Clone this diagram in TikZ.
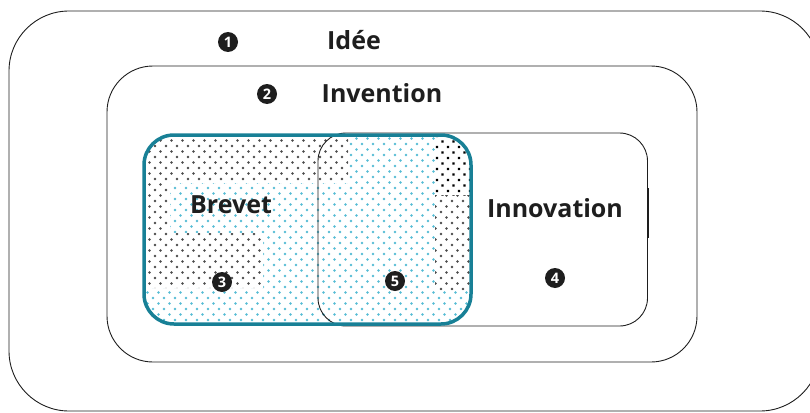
\documentclass[tikz,border=0pt]{standalone}
\usepackage{fontspec}
\setmainfont{Open Sans}
\definecolor{teal1}{RGB}{24,128,150}
\definecolor{cyandot}{RGB}{85,188,212}
\definecolor{ink}{RGB}{30,30,30}
\tikzset{
  frame/.style={draw=ink, line width=0.9pt, rounded corners=#1, outer sep=0pt, inner sep=0pt},
  lbl/.style={anchor=base, text=ink, inner sep=0pt, font=\bfseries\fontsize{25}{25}\selectfont},
  num/.style={circle, fill=ink, text=white, inner sep=0pt, minimum size=20pt, font=\bfseries\fontsize{14.5}{14.5}\selectfont},
}
\begin{document}
\begin{tikzpicture}[x=1pt,y=-1pt]
\useasboundingbox (0,0) rectangle (810,412);
% frames
\node[frame=60pt, minimum width=811pt, minimum height=400pt] (idee) at (414.5,211) {};
\node[frame=46pt, minimum width=590pt, minimum height=296pt] (inv) at (402,214) {};
\node[outer sep=0pt, inner sep=0pt, minimum width=327pt, minimum height=189pt] (brev) at (307.5,229.5) {};
\node[outer sep=0pt, inner sep=0pt, minimum width=329.5pt, minimum height=193pt] (innov) at (482.75,229.5) {};
% dots inside the patent box
\begin{scope}
  \clip[rounded corners=30pt] (brev.south west) rectangle (brev.north east);
  \fill[cyandot]
    \foreach \j in {0,...,18}{ \foreach \i in {0,...,30}{ (142+11*\i,133+11*\j) circle (1.3) } }
    \foreach \j in {0,...,18}{ \foreach \i in {0,...,30}{ (147.5+11*\i,138.5+11*\j) circle (1.3) } };
  \begin{scope}
    \clip (140,131) rectangle (348,183)
          (140,183) rectangle (170,233)
          (140,233) rectangle (263,288)
          (435,195) rectangle (475,290);
    \fill[white] (140,131) rectangle (475,330);
    \fill[ink!80]
      \foreach \j in {0,...,18}{ \foreach \i in {0,...,30}{ (144+11*\i,135+11*\j) circle (1.4) } }
      \foreach \j in {0,...,18}{ \foreach \i in {0,...,30}{ (149.5+11*\i,140.5+11*\j) circle (1.4) } };
  \end{scope}
  \begin{scope}
    \clip (435,131) rectangle (475,195);
    \fill[white] (435,131) rectangle (475,195);
    \fill[black]
      \foreach \j in {0,...,6}{ \foreach \i in {0,...,4}{ (437+11*\i-1.2,136+11*\j-1.2) rectangle ++(2.4,2.4) } }
      \foreach \j in {0,...,6}{ \foreach \i in {0,...,4}{ (442.5+11*\i-1.2,141.5+11*\j-1.2) rectangle ++(2.4,2.4) } };
  \end{scope}
\end{scope}
% innovation and patent outlines
\draw[ink, line width=0.9pt, rounded corners=28pt] (innov.south west) rectangle (innov.north east);
\draw[ink, line width=2pt] ([yshift=41.5pt]innov.east) -- ([yshift=-8.5pt]innov.east);
\draw[teal1, line width=3.5pt, rounded corners=30pt] (brev.south west) rectangle (brev.north east);
% labels
\node[lbl] (tidee) at (354,49) {Idée};
\node[lbl] (tinv) at (382,102) {Invention};
\node[lbl] (tbrev) at (231,213) {Brevet};
\node[lbl] (tinnov) at (555,217) {Innovation};
\node[num] (n1) at (228,42) {1};
\node[num] (n2) at (267,94) {2};
\node[num] (n3) at (222,282) {3};
\node[num] (n4) at (555,278) {4};
\node[num] (n5) at (395,281) {5};
\end{tikzpicture}
\end{document}
